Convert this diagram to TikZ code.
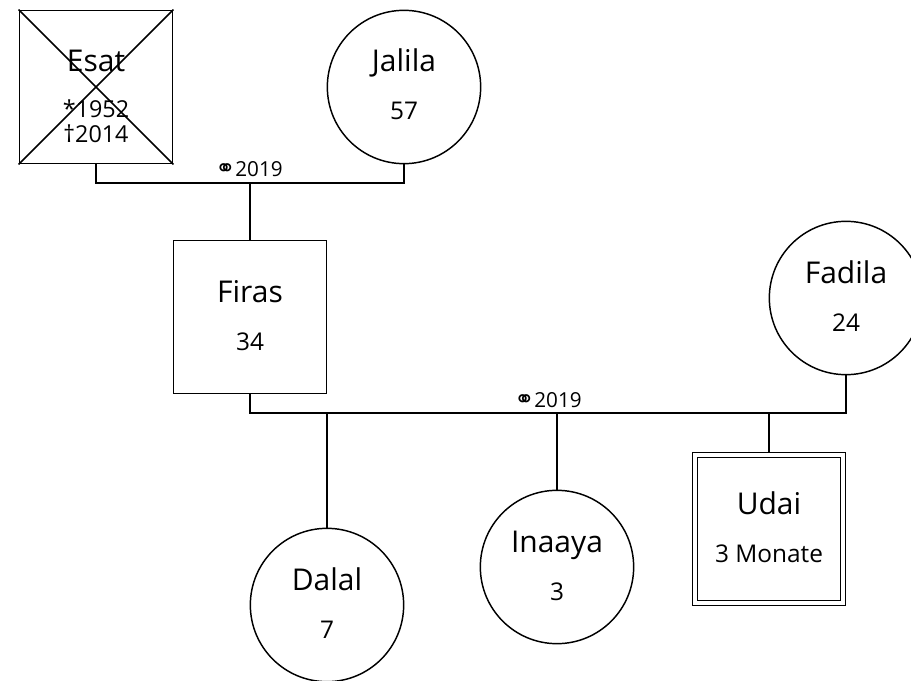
\documentclass[tikz,border=0pt]{standalone}
\usepackage{fontspec}
\setmainfont{Open Sans}
\newfontfamily\symfont{DejaVu Sans}

\begin{document}
\begin{tikzpicture}[
        x=0.75pt, y=-0.75pt,
        person/.style={draw=black, line width=1.1pt, minimum size=115pt, inner sep=0pt},
        male/.style={person, rectangle},
        female/.style={person, circle},
        index/.style={male, double, double distance=2.5pt, minimum size=111pt, outer sep=2.4pt},
        nametext/.style={anchor=base, inner sep=0pt, font=\fontsize{22.5}{25}\selectfont},
        agetext/.style={anchor=base, inner sep=0pt, font=\fontsize{18.3}{20}\selectfont},
        wedtext/.style={anchor=base, inner sep=0pt, font=\fontsize{15.5}{17}\selectfont},
        link/.style={line width=1.1pt}
    ]

    \useasboundingbox (0,0) rectangle (911,681);

    % Persons
    \foreach \n/\s/\x/\y/\a in {Jalila/female/404/87/57,
            Firas/male/250/317/34, Fadila/female/846/298/24, Dalal/female/327/605/7,
            Inaaya/female/557/567/3, Udai/index/769/529/3 Monate} {
        \node[\s] (\n) at (\x,\y) {};
        \node[nametext] (\n-name) at (\x,\y-15) {\n};
        \node[agetext] (\n-age) at (\x,\y+33) {\a};
    }

    % Esat (deceased)
    \node[male] (Esat) at (96,87) {};
    \node[nametext] (Esat-name) at (96,72) {Esat};
    \node[agetext, font=\fontsize{17.5}{19}\selectfont] (Esat-birth) at (96,118) {*1952};
    \node[agetext, font=\fontsize{17.5}{19}\selectfont] (Esat-death) at (96,143) {†2014};
    \draw[link] (Esat.north west) -- (Esat.south east)
                (Esat.north east) -- (Esat.south west);

    % Couples
    \coordinate (EsatJalila) at (250,183);
    \coordinate (FirasFadila) at (548,413);

    \draw[link] (Esat.south) |- (EsatJalila) -| (Jalila.south);
    \node[wedtext] (EsatJalila-wed) at (249,177) {{\symfont\fontsize{18}{18}\selectfont ⚭}2019};
    \draw[link] (EsatJalila) -- (Firas.north);

    \draw[link] (Firas.south) |- (FirasFadila) -| (Fadila.south);
    \node[wedtext] (FirasFadila-wed) at (548,407) {{\symfont\fontsize{18}{18}\selectfont ⚭}2019};

    % Children
    \foreach \c in {Dalal, Inaaya, Udai}
        \draw[link] (\c.north) -- (\c.north |- FirasFadila);

\end{tikzpicture}
\end{document}
